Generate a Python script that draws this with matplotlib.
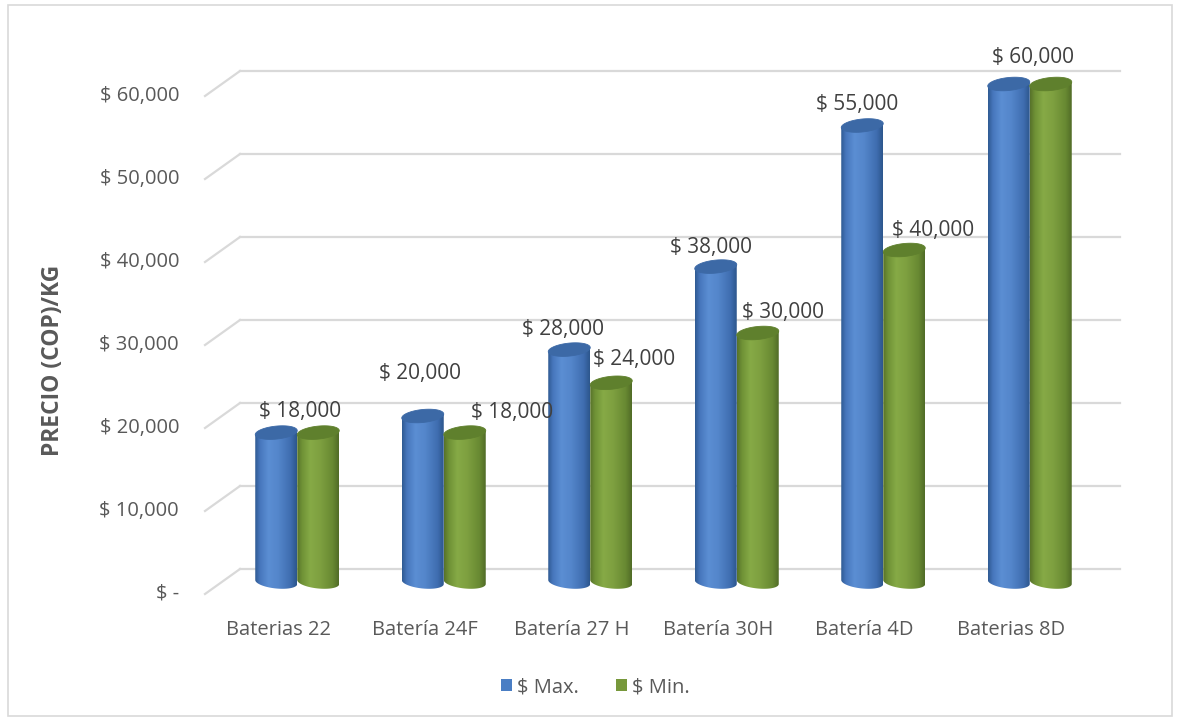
import matplotlib
matplotlib.use("Agg")
import matplotlib.pyplot as plt
import numpy as np
from matplotlib.patches import PathPatch, Rectangle, Patch, Polygon
from matplotlib.path import Path
from matplotlib.colors import LinearSegmentedColormap

# ---------------- data ----------------
categories = ["Baterias 22", "Batería 24F", "Batería 27 H", "Batería 30H", "Batería 4D", "Baterias 8D"]
max_vals = [18000, 20000, 28000, 38000, 55000, 60000]
min_vals = [18000, 18000, 24000, 30000, 40000, 60000]
series_names = ["$ Max.", "$ Min."]
y_ticks = [0, 10000, 20000, 30000, 40000, 50000, 60000]
y_tick_labels = ["$ -", "$ 10,000", "$ 20,000", "$ 30,000", "$ 40,000", "$ 50,000", "$ 60,000"]

# label offsets (pixels) for layout
max_label_dx = [0, -3, -6, -5, -5, 0]
max_label_dy = [21, 42, 20, 19, 21, 27]
min_label_dx = [0, 47, 23, 25, 29, 0]
min_label_dy = [21, 20, 23, 21, 20, 27]

plt.rcParams['font.family'] = ['Open Sans', 'DejaVu Sans']

W, H = 1179, 721
fig = plt.figure(figsize=(W / 100, H / 100), dpi=100)

# mapping: value 0 at pixel 582, 60000 at pixel 84
y0px = 582.0
ppu = 498.0 / 60000.0          # pixels per data unit
upp = 1.0 / ppu                # data units per pixel
x_left_px, x_right_px = 224.0, 1103.0
xpp = 6.0 / (x_right_px - x_left_px)   # x data units per pixel
ylo, yhi = -8000, 66000
bot_px = y0px - ylo * ppu
top_px = y0px - yhi * ppu
ax = fig.add_axes([x_left_px / W, (H - bot_px) / H, (x_right_px - x_left_px) / W, (bot_px - top_px) / H])
ax.set_xlim(-0.5, 5.5)
ax.set_ylim(ylo, yhi)
ax.axis('off')

grid_c = "#D9D9D9"
# back wall gridlines + floor diagonals
for v in y_ticks:
    ax.plot([-0.5 + 16 * xpp, -0.5 + 896 * xpp], [v + 13 * upp, v + 13 * upp],
            color=grid_c, lw=1.6, clip_on=False, zorder=1)
    ax.plot([-0.5 - 19 * xpp, -0.5 + 16 * xpp], [v - 12 * upp, v + 13 * upp],
            color=grid_c, lw=1.6, clip_on=False, zorder=1)
for v, lab in zip(y_ticks, y_tick_labels):
    ax.text(-0.5 - 45 * xpp, v - 12 * upp, lab, ha='right', va='center',
            fontsize=14.5, color="#595959")

blue_cmap = LinearSegmentedColormap.from_list("b", [
    (0.0, "#2F5A92"), (0.12, "#4777BD"), (0.32, "#5B8ED3"), (0.55, "#5486CB"),
    (0.85, "#3F6DB0"), (1.0, "#2C568C")])
green_cmap = LinearSegmentedColormap.from_list("g", [
    (0.0, "#56722A"), (0.12, "#6F9136"), (0.32, "#86AA46"), (0.55, "#7EA040"),
    (0.85, "#688932"), (1.0, "#506B27")])
blue_cap = "#3C69A6"
green_cap = "#5F802D"

bw = 42 * xpp          # cylinder width in data
eh = 6.5 * upp         # half-height of ellipse in data
skew = 2.0 * upp       # right side higher

grad = np.linspace(0, 1, 256).reshape(1, -1)


def cylinder(xc, v, cmap, capc, z):
    a = bw / 2
    t = np.linspace(np.pi, 2 * np.pi, 60)
    bx = xc + a * np.cos(t)
    by = 0 + eh * np.sin(t) - skew * np.cos(t)
    verts = list(zip(bx, by)) + [(xc + a, v + skew), (xc - a, v - skew), (bx[0], by[0])]
    codes = [Path.MOVETO] + [Path.LINETO] * (len(verts) - 2) + [Path.CLOSEPOLY]
    pp = PathPatch(Path(verts, codes), facecolor='none', edgecolor='none', transform=ax.transData)
    ax.add_patch(pp)
    im = ax.imshow(grad, extent=[xc - a, xc + a, -eh - 3 * skew, v + 3 * skew], aspect='auto',
                   cmap=cmap, zorder=z, interpolation='bilinear')
    im.set_clip_path(pp)
    tt = np.linspace(0, 2 * np.pi, 80)
    cx = xc + a * np.cos(tt)
    cy = v + eh * np.sin(tt) + skew * np.cos(tt)
    ax.add_patch(Polygon(np.column_stack([cx, cy]), closed=True, facecolor=capc,
                         edgecolor=capc, lw=0.6, zorder=z + 0.1))


for i, (mx, mn) in enumerate(zip(max_vals, min_vals)):
    cylinder(i - bw / 2, mx, blue_cmap, blue_cap, 3 + i * 0.01)
    cylinder(i + bw / 2, mn, green_cmap, green_cap, 4 + i * 0.01)

# data labels
lab_c = "#404040"
fs_lab = 15
for i, (mx, mn) in enumerate(zip(max_vals, min_vals)):
    if mx == mn:
        ax.text(i + 3 * xpp, mx + max_label_dy[i] * upp, f"$ {mx:,}", ha='center', va='center',
                fontsize=fs_lab, color=lab_c, zorder=10)
    else:
        ax.text(i - bw / 2 + max_label_dx[i] * xpp, mx + max_label_dy[i] * upp, f"$ {mx:,}",
                ha='center', va='center', fontsize=fs_lab, color=lab_c, zorder=10)
        ax.text(i + bw / 2 + min_label_dx[i] * xpp, mn + min_label_dy[i] * upp, f"$ {mn:,}",
                ha='center', va='center', fontsize=fs_lab, color=lab_c, zorder=10)

# category labels
for i, c in enumerate(categories):
    ax.text(i - 19 * xpp, -48 * upp, c, ha='center', va='center', fontsize=14.5, color="#595959")

fig.text(53 / W, 1 - 360 / H, "PRECIO (COP)/KG", rotation=90, ha='center', va='center',
         fontsize=16.5, fontweight='bold', color="#595959")

handles = [Patch(facecolor="#4A7EC4"), Patch(facecolor="#77983B")]
fig.legend(handles, series_names, loc='center', bbox_to_anchor=(0.505, 1 - 687 / H), ncol=2,
           frameon=False, handlelength=0.55, handleheight=0.55, handletextpad=0.25,
           columnspacing=1.8, fontsize=14.5, labelcolor="#595959")

fig.add_artist(Rectangle((8 / W, 5 / H), (1172 - 8) / W, (716 - 5) / H, transform=fig.transFigure,
                         fill=False, edgecolor="#D9D9D9", lw=1.2))

fig.savefig("out.png", dpi=100)
